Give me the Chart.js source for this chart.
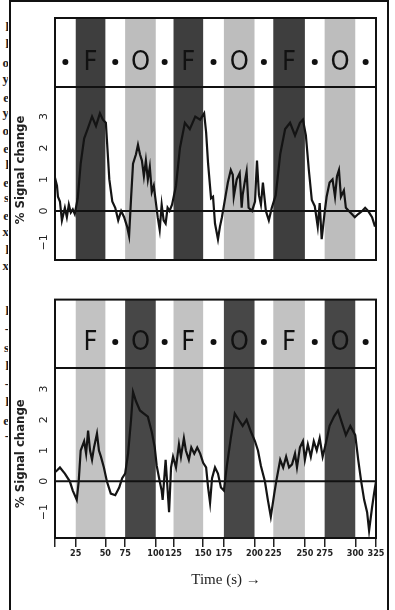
<!DOCTYPE html>
<html>
<head>
<meta charset="utf-8">
<script src="https://cdn.jsdelivr.net/npm/chart.js@4.4.1/dist/chart.umd.min.js"></script>
<style>
  html, body { margin: 0; padding: 0; background: #fff; }
  #page { position: relative; width: 395px; height: 610px; overflow: hidden; background: #fff; }
  .rule { position: absolute; background: #111; }
  #gutter { position: absolute; left: 0; top: 0; width: 8px; height: 610px; overflow: hidden; }
  #gutter span { position: absolute; right: -1px; font: bold 13px "Liberation Serif", serif; color: #222; line-height: 1; }
  .panel { position: absolute; left: 0; width: 395px; }
</style>
</head>
<body>
<div id="page">
  <div id="gutter"></div>
  <div class="rule" style="left:9px;top:0;width:2px;height:610px"></div>
  <div class="rule" style="left:387px;top:0;width:2px;height:610px"></div>
  <div class="rule" style="left:9px;top:0;width:380px;height:2px"></div>
  <div class="panel" style="top:0;height:300px"><canvas id="topChart"></canvas></div>
  <div class="panel" style="top:290px;height:320px"><canvas id="bottomChart"></canvas></div>
</div>
<script>
// block design: edges in seconds, kind of each block
const blockEdges = [0, 21, 51, 71, 102, 120, 150, 171, 202, 221, 253, 273, 304, 325]
const blockKinds = ['rest', 'F', 'rest', 'O', 'rest', 'F', 'rest', 'O', 'rest', 'F', 'rest', 'O', 'rest']
const topBlockLabels = ['•', 'F', '•', 'O', '•', 'F', '•', 'O', '•', 'F', '•', 'O', '•']
const bottomBlockLabels = ['', 'F', '•', 'O', '•', 'F', '•', 'O', '•', 'F', '•', 'O', '•']
const timeTickLabels = ['25', '50', '75', '100', '125', '150', '175', '200', '225', '250', '275', '300', '325']
const yTicks = [-1, 0, 1, 2, 3]

// top trace (% signal change)
const topTime = [0, 2, 3, 5, 7, 10, 12, 14, 16, 18, 20,
  23, 26, 29.5, 33, 37.5, 41.5, 45.5, 48.5, 51.5,
  55, 58, 61, 64, 67, 70, 73, 75, 77, 79, 82, 84, 86, 88, 90, 92, 94, 96, 98, 100, 102, 104, 106, 108, 110, 112, 114, 116, 118.5,
  122.5, 126.5, 131.5, 136.5, 142, 147, 151, 153,
  155, 158, 160, 162, 165, 167, 169, 172, 175, 178, 180, 181, 184, 187, 189, 190, 192, 194, 196, 199.5, 202.5, 204.5, 206.5, 208.5, 210.5, 213.5, 216.5, 219.5,
  223.5, 228, 233, 238, 243, 248, 251,
  254, 257, 260, 263, 266, 268, 270, 273, 275, 278, 281, 283.5, 285.5, 287.5, 289.5, 292.5, 294.5, 297.5, 300.5, 303.5, 307, 311, 314, 317, 321, 324]
const topSignal = [1.05, 0.8, 0.45, 0.3, -0.3, 0.1, -0.2, 0.2, -0.05, 0.05, -0.1,
  0.4, 1.5, 2.3, 2.6, 3.0, 2.7, 3.1, 2.9, 2.8,
  1.0, 0.3, 0.1, -0.3, 0.0, -0.2, -0.5, -0.8, 0.4, 1.5, 1.8, 2.1, 1.8, 1.6, 1.1, 1.6, 1.0, 1.4, 0.6, 0.8, 0.3, -0.2, -0.6, 0.2, -0.3, -0.4, 0.1, 0.0, 0.2,
  0.8, 2.0, 2.8, 2.6, 3.0, 2.9, 3.1, 2.5,
  1.5, 0.4, 0.45, -0.4, -0.9, -0.5, -0.2, 0.35, 0.9, 1.3, 1.15, 0.45, 1.0, 1.2, 0.1, 0.5, 0.9, 1.25, 0.1, 0.0, 0.3, 1.6, 0.5, 0.2, 0.9, 0.0, -0.3, 0.1,
  0.5, 1.8, 2.6, 2.8, 2.4, 2.8, 2.9,
  2.4, 1.3, 0.35, 0.15, -0.5, 0.25, -0.9, -0.05, 0.45, 0.9, 1.0, 0.45, 1.1, 1.3, 0.45, 0.65, 0.1, 0.0, -0.1, -0.2, -0.1, 0.0, 0.1, 0.0, -0.2, -0.5]

// bottom trace
const bottomTime = [0, 2, 5, 10, 15, 18, 22, 24, 26, 29.5, 31.5,
  33.5, 35.5, 37.5, 39.5, 42.5, 44.5, 46.5, 49.5, 52.5, 56.5,
  61, 65, 68, 71, 74, 77, 79, 82, 86, 90,
  94, 98, 101, 103, 106, 108, 109, 112, 115.5, 117.5,
  119.5, 122.5, 125.5, 127.5, 130.5, 132.5, 135.5, 138, 141, 144,
  147, 150, 153, 155, 157, 159, 162, 165, 168, 171,
  174, 178, 182, 186, 190, 194, 198.5, 202.5, 205.5, 208.5,
  212.5, 215.5, 218.5, 222, 224, 228, 231, 234, 237, 240,
  243, 245, 248, 251, 253, 256, 259, 262, 265, 268,
  271, 274, 278, 282.5, 286.5, 290.5, 294.5, 299, 304, 307,
  310, 313, 316, 318, 321, 323, 325]
const bottomSignal = [0.3, 0.35, 0.45, 0.25, 0.0, -0.3, -0.6, 0.0, 1.0, 1.3, 0.9,
  1.65, 1.0, 0.7, 1.1, 1.55, 1.0, 0.8, 0.45, 0.0, -0.4,
  -0.45, -0.2, 0.1, 0.25, 0.9, 2.0, 2.9, 2.6, 2.3, 2.2,
  2.1, 1.6, 1.1, 0.5, 0.0, -0.3, -0.6, 0.7, -1.0, 0.45,
  0.8, 0.45, 1.2, 0.8, 1.4, 1.0, 0.7, 1.1, 0.9, 1.1,
  0.9, 0.6, 0.45, -0.2, -0.7, 0.1, 0.45, 0.25, -0.2, -0.3,
  0.5, 1.4, 2.2, 2.0, 1.8, 2.0, 1.6, 1.3, 1.0, 0.5,
  0.0, -0.6, -1.15, -0.4, 0.0, 0.7, 0.45, 0.8, 0.45, 0.55,
  0.9, 0.45, 1.1, 1.3, 0.7, 1.2, 0.8, 1.3, 1.0, 1.4,
  0.8, 1.2, 1.8, 2.1, 2.3, 1.9, 1.5, 1.8, 1.5, 0.7,
  0.0, -0.6, -1.0, -1.6, -0.85, -0.4, 0.0]

// cut-off letters of the neighbouring text column
const gutterChars = ['l', 'l', 'o', 'y', 'e', 'y', 'o', 'e', 'l', 'e', 's', 'e', 'x', 'l', 'x', 'l', '-', 's', 'l', '-', 'l', 'e', '-']
const gutterTops = [20, 37, 56, 72, 91, 106, 124, 142, 158, 176, 191, 209, 225, 243, 259, 304, 322, 341, 359, 377, 395, 414, 429]

const gutter = document.getElementById('gutter')
gutterChars.forEach((c, i) => {
    const s = document.createElement('span')
    s.textContent = c
    s.style.top = gutterTops[i] + 'px'
    gutter.appendChild(s)
})

const panelPlugin = {
    id: 'panel',
    beforeDatasetsDraw(chart, args, opts) {
        const { ctx, chartArea: a, scales: { x, y } } = chart
        ctx.save()
        // stimulus blocks
        for (let i = 0; i < blockKinds.length; i++) {
            const shade = opts.shades[blockKinds[i]]
            if (!shade) continue
            const x0 = x.getPixelForValue(blockEdges[i])
            const x1 = x.getPixelForValue(blockEdges[i + 1])
            ctx.fillStyle = shade
            ctx.fillRect(x0, a.top, x1 - x0, a.bottom - a.top)
        }
        // F / O labels
        const ly = y.getPixelForValue(opts.labelAt)
        ctx.fillStyle = '#111'
        ctx.font = '27px "DejaVu Sans Condensed", sans-serif'
        ctx.textAlign = 'center'
        ctx.textBaseline = 'middle'
        opts.labels.forEach((lab, i) => {
            const cx = x.getPixelForValue((blockEdges[i] + blockEdges[i + 1]) / 2)
            if (lab === '•') {
                ctx.beginPath()
                ctx.arc(cx, ly, 3, 0, Math.PI * 2)
                ctx.fill()
            } else if (lab) {
                ctx.fillText(lab, cx, ly + 1)
            }
        })
        // zero line + label strip line
        ctx.strokeStyle = '#111'
        ctx.lineWidth = 2
        ;[0, opts.stripAt].forEach(v => {
            const py = y.getPixelForValue(v)
            ctx.beginPath()
            ctx.moveTo(a.left, py)
            ctx.lineTo(a.right, py)
            ctx.stroke()
        })
        ctx.restore()
    },
    afterDatasetsDraw(chart, args, opts) {
        const { ctx, chartArea: a, scales: { y } } = chart
        ctx.save()
        ctx.strokeStyle = '#111'
        ctx.lineWidth = 2
        ctx.strokeRect(a.left, a.top, a.right - a.left, a.bottom - a.top)

        ctx.fillStyle = '#222'
        ctx.textAlign = 'center'
        ctx.textBaseline = 'middle'
        ctx.save()
        ctx.translate(21, y.getPixelForValue(opts.titleAt))
        ctx.rotate(-Math.PI / 2)
        ctx.font = 'bold 13px "DejaVu Sans Condensed", sans-serif'
        ctx.fillText('% Signal change', 0, 0)
        ctx.restore()

        if (opts.xTitle) {
            ctx.font = '15px "Liberation Serif", serif'
            ctx.fillText(opts.xTitle, 226, a.bottom + 42)
        }
        ctx.restore()
    }
}

function makePanel(id, time, signal, o) {
    return new Chart(document.getElementById(id), {
        type: 'line',
        data: {
            datasets: [{
                data: time.map((t, i) => ({ x: t, y: signal[i] })),
                borderColor: '#141414',
                borderWidth: 2.2,
                pointRadius: 0,
                tension: 0
            }]
        },
        options: {
            responsive: true,
            maintainAspectRatio: false,
            animation: false,
            layout: { padding: o.padding },
            plugins: {
                legend: { display: false },
                tooltip: { enabled: false },
                panel: o.panel
            },
            scales: {
                x: o.showTime ? {
                    type: 'linear', min: 0, max: 325,
                    afterBuildTicks: s => { s.ticks = [0, ...blockEdges.slice(1)].map(v => ({ value: v })) },
                    afterFit: s => { s.height = 40 },
                    grid: { display: true, drawOnChartArea: false, drawTicks: true, tickLength: 9, color: '#222', lineWidth: 1.5 },
                    border: { display: false },
                    ticks: {
                        autoSkip: false, maxRotation: 0, minRotation: 0, padding: 1, color: '#222',
                        font: { family: 'DejaVu Sans Condensed', size: 9, weight: 'bold' },
                        callback: (v, i) => i === 0 ? '' : timeTickLabels[i - 1]
                    }
                } : { type: 'linear', min: 0, max: 325, display: false },
                y: {
                    type: 'linear', min: o.yMin, max: o.yMax,
                    afterBuildTicks: s => { s.ticks = yTicks.map(v => ({ value: v })) },
                    afterFit: s => { s.width = 55 },
                    grid: { display: false, drawTicks: false },
                    border: { display: false },
                    ticks: {
                        minRotation: 90, maxRotation: 90, crossAlign: 'center', padding: 3, color: '#222',
                        font: { family: 'DejaVu Sans', size: 11 },
                        callback: v => v < 0 ? '\u2212' + Math.abs(v) : String(v)
                    }
                }
            }
        },
        plugins: [panelPlugin]
    })
}

makePanel('topChart', topTime, topSignal, {
    padding: { left: 0, right: 19, top: 18, bottom: 40 },
    yMin: -1.56, yMax: 6.13,
    showTime: false,
    panel: {
        shades: { F: '#3e3e3e', O: '#bdbdbd' },
        labels: topBlockLabels, labelAt: 4.73, stripAt: 3.94, titleAt: 1.3
    }
})

makePanel('bottomChart', bottomTime, bottomSignal, {
    padding: { left: 0, right: 19, top: 8, bottom: 32 },
    yMin: -1.84, yMax: 5.9,
    showTime: true,
    panel: {
        shades: { F: '#c2c2c2', O: '#474747' },
        labels: bottomBlockLabels, labelAt: 4.52, stripAt: 3.68, titleAt: 0.9,
        xTitle: 'Time (s) \u2192'
    }
})
</script>
</body>
</html>
